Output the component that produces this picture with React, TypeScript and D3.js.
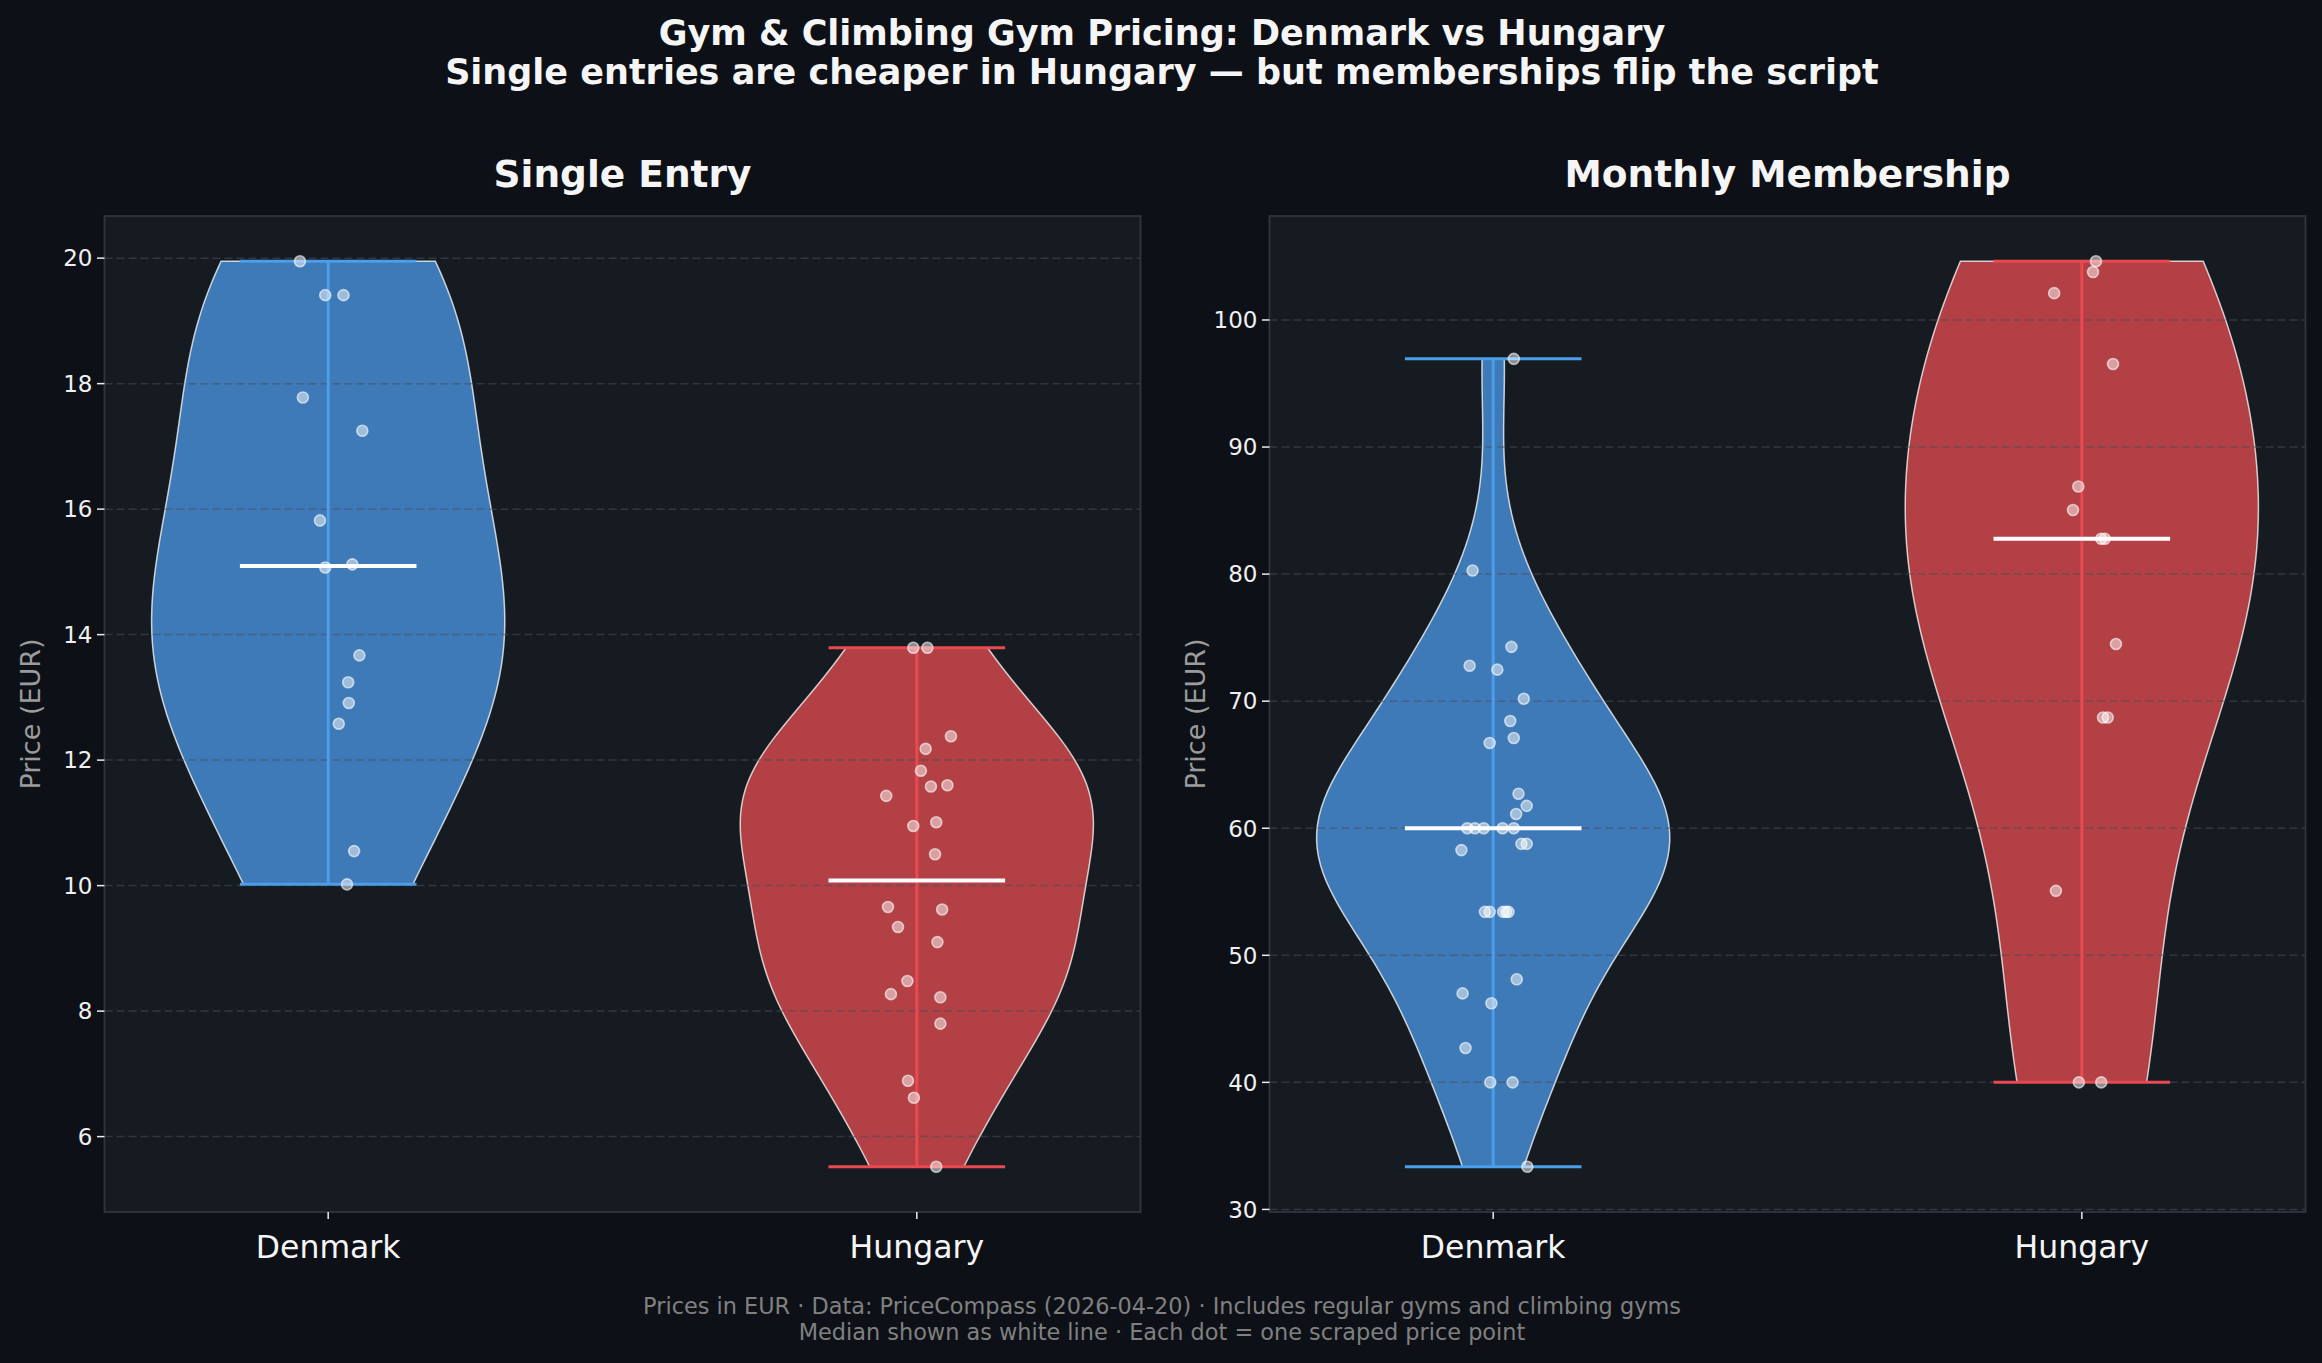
import React from "react";
import * as d3 from "d3";

// ---- data (EUR) ----
const countries = ["Denmark", "Hungary"];
const panelTitles = ["Single Entry", "Monthly Membership"];

const dkSingle = [19.95, 19.41, 19.41, 17.78, 17.25, 15.82, 15.07, 15.12, 13.67, 13.24, 12.91, 12.58, 10.55, 10.02];
const dkSingleJitter = [-0.048, -0.005, 0.026, -0.043, 0.058, -0.014, -0.005, 0.041, 0.053, 0.034, 0.035, 0.018, 0.044, 0.032];

const huSingle = [13.79, 13.79, 12.38, 12.18, 11.83, 11.58, 11.6, 11.43, 10.95, 11.01, 10.5, 9.66, 9.62, 9.34, 9.1, 8.48, 8.27, 8.22, 7.8, 6.89, 6.62, 5.52];
const huSingleJitter = [-0.006, 0.018, 0.058, 0.015, 0.007, 0.024, 0.052, -0.052, -0.006, 0.033, 0.031, -0.049, 0.043, -0.032, 0.035, -0.016, -0.044, 0.04, 0.04, -0.015, -0.005, 0.033];

const dkMonthly = [96.94, 80.28, 74.27, 72.79, 72.48, 70.19, 68.44, 67.1, 66.71, 62.71, 61.76, 61.12, 60, 60, 60, 60, 60, 58.77, 58.77, 58.28, 53.42, 53.42, 53.42, 53.42, 53.42, 48.11, 47.0, 46.22, 42.7, 40, 40, 33.36];
const dkMonthlyJitter = [0.035, -0.035, 0.031, -0.04, 0.007, 0.052, 0.029, 0.035, -0.006, 0.043, 0.057, 0.039, -0.044, -0.031, -0.016, 0.016, 0.035, 0.048, 0.057, -0.054, -0.014, -0.006, 0.017, 0.022, 0.026, 0.04, -0.052, -0.003, -0.047, -0.005, 0.033, 0.058];

const huMonthly = [104.62, 103.77, 102.11, 96.54, 86.9, 85.04, 82.78, 82.78, 74.5, 68.72, 68.72, 55.07, 40, 40];
const huMonthlyJitter = [0.024, 0.019, -0.047, 0.053, -0.006, -0.015, 0.033, 0.039, 0.058, 0.036, 0.044, -0.044, -0.005, 0.033];

const singleTicks = [6, 8, 10, 12, 14, 16, 18, 20];
const monthlyTicks = [30, 40, 50, 60, 70, 80, 90, 100];

const footerLines = [
  "Prices in EUR · Data: PriceCompass (2026-04-20) · Includes regular gyms and climbing gyms",
  "Median shown as white line · Each dot = one scraped price point",
];

// ---- style ----
const W = 2322;
const H = 1363;
const FIG_BG = "#0d1117";
const AX_BG = "#161b22";
const SPINE = "#30363d";
const FONT = "DejaVu Sans";
const colors = [
  { body: "#3e7ab7", line: "#4a9eea" },
  { body: "#b24044", line: "#e84a4f" },
];

const AX_TOP = 216;
const AX_BOTTOM = 1212;
const AX_W = 1036;
const AX_LEFT = [104.5, 1269.5];
const HALF_WIDTH = 0.3; // widths = 0.6

type Pt = { v: number; d: number };

// gaussian KDE, Scott's rule, evaluated between min and max like matplotlib
function density(values: number[]): Pt[] {
  const n = values.length;
  const sd = d3.deviation(values) as number;
  const bw = sd * Math.pow(n, -1 / 5);
  const lo = d3.min(values) as number;
  const hi = d3.max(values) as number;
  const out: Pt[] = [];
  for (let i = 0; i < 100; i++) {
    const v = lo + ((hi - lo) * i) / 99;
    let s = 0;
    for (const x of values) {
      const z = (v - x) / bw;
      s += Math.exp(-0.5 * z * z);
    }
    out.push({ v, d: s / (n * bw * Math.sqrt(2 * Math.PI)) });
  }
  return out;
}

type Series = { values: number[]; jitter: number[] };

function Panel({ left, title, series, ticks }: { left: number; title: string; series: Series[]; ticks: number[] }) {
  const all = series.flatMap((s) => s.values);
  const lo = d3.min(all) as number;
  const hi = d3.max(all) as number;
  const pad = (hi - lo) * 0.05;
  const y = d3.scaleLinear().domain([lo - pad, hi + pad]).range([AX_BOTTOM, AX_TOP]);
  const xlo = 1 - HALF_WIDTH;
  const xhi = 2 + HALF_WIDTH;
  const xpad = (xhi - xlo) * 0.05;
  const x = d3.scaleLinear().domain([xlo - xpad, xhi + xpad]).range([left, left + AX_W]);
  const right = left + AX_W;

  const bodies = series.map((s, i) => {
    const pos = i + 1;
    const pts = density(s.values);
    const maxD = d3.max(pts, (p) => p.d) as number;
    const area = d3
      .area<Pt>()
      .x0((p) => x(pos - (p.d / maxD) * HALF_WIDTH))
      .x1((p) => x(pos + (p.d / maxD) * HALF_WIDTH))
      .y((p) => y(p.v));
    return (
      <path key={i} d={area(pts) as string} fill={colors[i].body} stroke="#ffffff" strokeOpacity={0.75} strokeWidth={1.5} />
    );
  });

  return (
    <g>
      <rect x={left} y={AX_TOP} width={AX_W} height={AX_BOTTOM - AX_TOP} fill={AX_BG} />
      {bodies}
      {ticks.map((t) => (
        <line key={t} x1={left} x2={right} y1={y(t)} y2={y(t)} stroke="#484f58" strokeOpacity={0.55} strokeWidth={1.5} strokeDasharray="8,4" />
      ))}
      {series.map((s, i) => {
        const pos = i + 1;
        const mn = d3.min(s.values) as number;
        const mx = d3.max(s.values) as number;
        const med = d3.median(s.values) as number;
        const c = colors[i].line;
        const capX1 = x(pos - HALF_WIDTH / 2);
        const capX2 = x(pos + HALF_WIDTH / 2);
        return (
          <g key={i}>
            <line x1={x(pos)} x2={x(pos)} y1={y(mn)} y2={y(mx)} stroke={c} strokeWidth={3} />
            <line x1={capX1} x2={capX2} y1={y(mn)} y2={y(mn)} stroke={c} strokeWidth={3} />
            <line x1={capX1} x2={capX2} y1={y(mx)} y2={y(mx)} stroke={c} strokeWidth={3} />
            <line x1={capX1} x2={capX2} y1={y(med)} y2={y(med)} stroke="#ffffff" strokeWidth={4} />
          </g>
        );
      })}
      {series.map((s, i) =>
        s.values.map((v, j) => (
          <circle
            key={`${i}-${j}`}
            cx={x(i + 1 + s.jitter[j])}
            cy={y(v)}
            r={5.5}
            fill="#ffffff"
            fillOpacity={0.5}
            stroke="#ffffff"
            strokeOpacity={0.6}
            strokeWidth={1.6}
          />
        ))
      )}
      <rect x={left} y={AX_TOP} width={AX_W} height={AX_BOTTOM - AX_TOP} fill="none" stroke={SPINE} strokeWidth={1.8} />
      {ticks.map((t) => (
        <g key={t}>
          <line x1={left - 7.5} x2={left} y1={y(t)} y2={y(t)} stroke="#e6edf3" strokeWidth={1.5} />
          <text x={left - 12} y={y(t)} dy="0.36em" textAnchor="end" fontFamily={FONT} fontSize={23} fill="#f0f0f0">
            {t}
          </text>
        </g>
      ))}
      {countries.map((c, i) => (
        <g key={c}>
          <line x1={x(i + 1)} x2={x(i + 1)} y1={AX_BOTTOM} y2={AX_BOTTOM + 7} stroke="#e6edf3" strokeWidth={1.5} />
          <text x={x(i + 1)} y={1258} textAnchor="middle" fontFamily={FONT} fontSize={31.5} fill="#f5f5f5">
            {c}
          </text>
        </g>
      ))}
      <text
        transform={`translate(${left - 74},${(AX_TOP + AX_BOTTOM) / 2}) rotate(-90)`}
        textAnchor="middle"
        dy="0.36em"
        fontFamily={FONT}
        fontSize={27}
        fill="#9b9b9b"
      >
        Price (EUR)
      </text>
      <text x={left + AX_W / 2} y={187} textAnchor="middle" fontFamily={FONT} fontWeight="bold" fontSize={37.5} fill="#f5f5f5">
        {title}
      </text>
    </g>
  );
}

export default function App() {
  return (
    <div style={{ position: "absolute", left: 0, top: 0 }}>
      <svg width={W} height={H} style={{ display: "block" }}>
        <rect width={W} height={H} fill={FIG_BG} />
        <text x={1162} y={45} textAnchor="middle" fontFamily={FONT} fontWeight="bold" fontSize={35} fill="#f5f5f5">
          Gym &amp; Climbing Gym Pricing: Denmark vs Hungary
        </text>
        <text x={1162} y={84} textAnchor="middle" fontFamily={FONT} fontWeight="bold" fontSize={35} fill="#f5f5f5">
          Single entries are cheaper in Hungary — but memberships flip the script
        </text>
        <Panel
          left={AX_LEFT[0]}
          title={panelTitles[0]}
          ticks={singleTicks}
          series={[
            { values: dkSingle, jitter: dkSingleJitter },
            { values: huSingle, jitter: huSingleJitter },
          ]}
        />
        <Panel
          left={AX_LEFT[1]}
          title={panelTitles[1]}
          ticks={monthlyTicks}
          series={[
            { values: dkMonthly, jitter: dkMonthlyJitter },
            { values: huMonthly, jitter: huMonthlyJitter },
          ]}
        />
        {footerLines.map((t, i) => (
          <text key={i} x={1162} y={1314 + i * 26} textAnchor="middle" fontFamily={FONT} fontSize={22.4} fill="#808080">
            {t}
          </text>
        ))}
      </svg>
    </div>
  );
}
